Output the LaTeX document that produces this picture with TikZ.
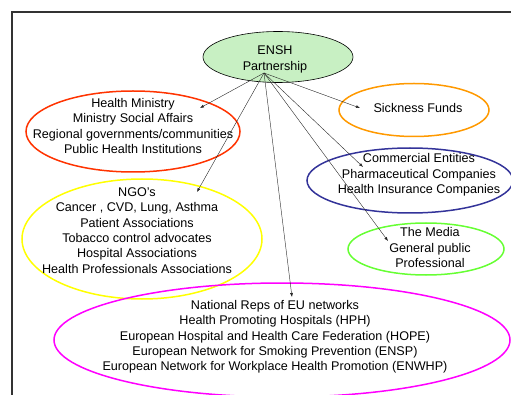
\documentclass[tikz,border=0pt]{standalone}
\usepackage{fontspec}
\setmainfont{Liberation Sans}
\usetikzlibrary{shapes.geometric,arrows.meta}

\definecolor{hubfill}{RGB}{200,240,195}
\definecolor{govred}{RGB}{255,51,0}
\definecolor{fundorange}{RGB}{255,153,0}
\definecolor{combblue}{RGB}{51,51,153}
\definecolor{mediagreen}{RGB}{102,255,51}
\definecolor{ngoyellow}{RGB}{255,255,0}
\definecolor{eumagenta}{RGB}{255,0,255}

\begin{document}
\begin{tikzpicture}[x=1pt,y=-1pt,
        group/.style={draw,ellipse,line width=1.5pt,inner sep=0pt},
        txt/.style={align=center,inner sep=0pt,font=\fontsize{12.6}{15.3}\selectfont},
        link/.style={-{Latex[length=4pt,width=3pt]},line width=0.4pt,black!85}]
    \useasboundingbox (0,0) rectangle (511,395);
    % page frame
    \draw[line width=1.2pt,black!80] (12,400) -- (12,12) -- (520,12);

    % ellipses
    \node[draw,ellipse,fill=hubfill,line width=0.6pt,minimum width=150,minimum height=51] (ensh) at (278,57) {};
    \node[group,draw=govred,minimum width=214,minimum height=81] (gov) at (133,131.5) {};
    \node[group,draw=fundorange,minimum width=150,minimum height=53] (funds) at (414,110) {};
    \node[group,draw=combblue,minimum width=206,minimum height=65] (comm) at (410,180.5) {};
    \node[group,draw=mediagreen,minimum width=156,minimum height=52] (media) at (426,249) {};
    \node[group,draw=ngoyellow,minimum width=240,minimum height=120] (ngo) at (142,239) {};
    \node[group,draw=eumagenta,minimum width=456,minimum height=114] (eu) at (282,340) {};

    % texts
    \node[txt] (ensht) at (275,59.5) {ENSH\\Partnership};
    \node[txt] (govt) at (133,126) {Health Ministry\\Ministry Social Affairs\\Regional governments/communities\\Public Health Institutions};
    \node[txt] (fundst) at (418,108) {Sickness Funds};
    \node[txt] (commt) at (419,175) {Commercial Entities\\Pharmaceutical Companies\\Health Insurance Companies};
    \node[txt] (mediat) at (430,247.5) {The Media\\General public\\Professional};
    \node[txt] (ngot) at (137,230.5) {NGO’s\\Cancer , CVD, Lung, Asthma\\Patient Associations\\Tobacco control advocates\\Hospital Associations\\Health Professionals Associations};
    \node[txt] (eut) at (275,337) {National Reps of EU networks\\Health Promoting Hospitals (HPH)\\European Hospital and Health Care Federation (HOPE)\\European Network for Smoking Prevention (ENSP)\\European Network for Workplace Health Promotion (ENWHP)};

    % arrows out of the partnership
    \coordinate (hub) at (264,73);
    \coordinate (govtip) at (200,108);
    \coordinate (ngotip) at (197,192);
    \coordinate (eutip) at (292,297);
    \coordinate (fundstip) at (360,108);
    \coordinate (commtip) at (363,167);
    \coordinate (mediatip) at (388,241);
    \foreach \t in {govtip,ngotip,eutip,fundstip,commtip,mediatip}
        \draw[link] (hub) -- (\t);
\end{tikzpicture}
\end{document}
